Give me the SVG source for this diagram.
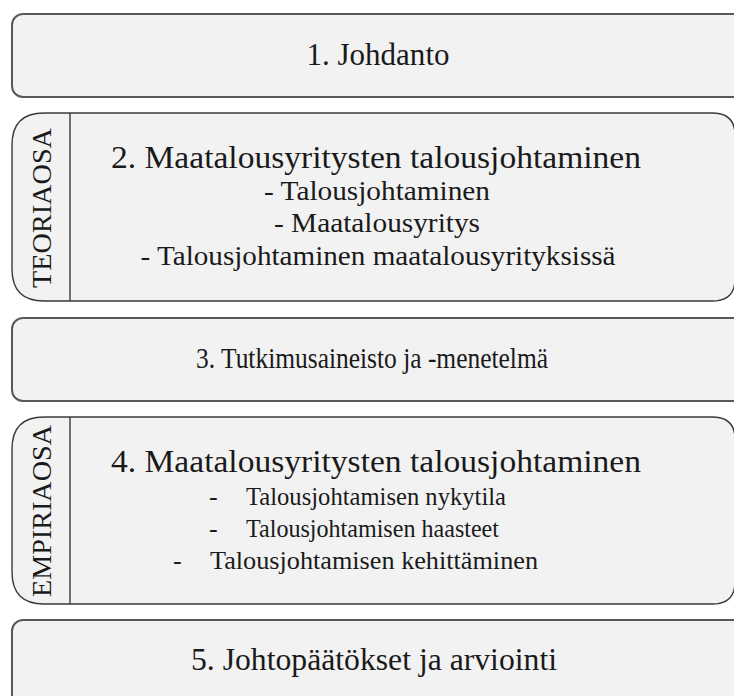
<svg xmlns="http://www.w3.org/2000/svg" width="734" height="696" viewBox="0 0 734 696">
  <style>
    .plain { fill: #f2f2f2; stroke: #595959; stroke-width: 2; }
    .part { fill: #f2f2f2; stroke: #3a3a3a; stroke-width: 1.4; }
    .divider { stroke: #3a3a3a; stroke-width: 1.4; }
    text { font-family: "Liberation Serif", "DejaVu Serif", serif; fill: #1a1a1a; }
    .title { font-size: 31px; text-anchor: middle; }
    .sub { font-size: 27px; text-anchor: middle; }
    .subl { font-size: 26px; }
    .side { font-size: 28px; text-anchor: middle; }
  </style>

  <!-- Chapter 1 -->
  <g id="ch1">
    <rect class="plain" x="12" y="14" width="740" height="83" rx="11"/>
    <text class="title" x="378" y="65" textLength="143" lengthAdjust="spacingAndGlyphs">1. Johdanto</text>
  </g>

  <!-- Chapter 2: theory part -->
  <g id="ch2">
    <path class="part" d="M44,113 H712 Q735,113 735,135 V279 Q735,301 712,301 H44 Q12,301 12,269 V145 Q12,113 44,113 Z"/>
    <line class="divider" x1="70" y1="113" x2="70" y2="301"/>
    <text class="side" transform="translate(51,208) rotate(-90)" textLength="160" lengthAdjust="spacingAndGlyphs">TEORIAOSA</text>
    <text class="title" x="376" y="168" textLength="530" lengthAdjust="spacingAndGlyphs">2. Maatalousyritysten talousjohtaminen</text>
    <text class="sub" x="377" y="200" textLength="226" lengthAdjust="spacingAndGlyphs">- Talousjohtaminen</text>
    <text class="sub" x="377" y="232" textLength="206" lengthAdjust="spacingAndGlyphs">- Maatalousyritys</text>
    <text class="sub" x="378" y="265" textLength="475" lengthAdjust="spacingAndGlyphs">- Talousjohtaminen maatalousyrityksissä</text>
  </g>

  <!-- Chapter 3 -->
  <g id="ch3">
    <rect class="plain" x="12" y="318" width="740" height="83" rx="11"/>
    <text class="title" x="372" y="368" style="font-size:30px" textLength="352" lengthAdjust="spacingAndGlyphs">3. Tutkimusaineisto ja -menetelmä</text>
  </g>

  <!-- Chapter 4: empirical part -->
  <g id="ch4">
    <path class="part" d="M44,417 H712 Q735,417 735,439 V582 Q735,604 712,604 H44 Q12,604 12,572 V449 Q12,417 44,417 Z"/>
    <line class="divider" x1="70" y1="417" x2="70" y2="604"/>
    <text class="side" transform="translate(51,511) rotate(-90)" textLength="172" lengthAdjust="spacingAndGlyphs">EMPIRIAOSA</text>
    <text class="title" x="376" y="472" textLength="530" lengthAdjust="spacingAndGlyphs">4. Maatalousyritysten talousjohtaminen</text>
    <text class="subl" x="209" y="505">-</text>
    <text class="subl" x="246" y="505" textLength="260" lengthAdjust="spacingAndGlyphs">Talousjohtamisen nykytila</text>
    <text class="subl" x="209" y="537">-</text>
    <text class="subl" x="246" y="537" textLength="253" lengthAdjust="spacingAndGlyphs">Talousjohtamisen haasteet</text>
    <text class="subl" x="173" y="569">-</text>
    <text class="subl" x="210" y="569" textLength="328" lengthAdjust="spacingAndGlyphs">Talousjohtamisen kehittäminen</text>
  </g>

  <!-- Chapter 5 -->
  <g id="ch5">
    <rect class="plain" x="12" y="620" width="740" height="90" rx="11"/>
    <text class="title" x="374" y="670" textLength="366" lengthAdjust="spacingAndGlyphs">5. Johtopäätökset ja arviointi</text>
  </g>
</svg>
